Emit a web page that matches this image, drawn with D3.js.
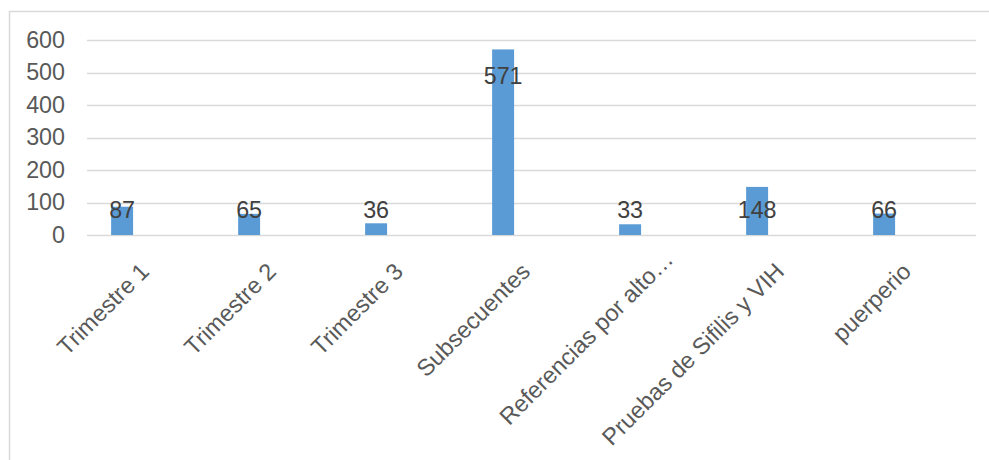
<!DOCTYPE html>
<html>
<head>
<meta charset="utf-8">
<script src="https://cdn.jsdelivr.net/npm/d3@7"></script>
<style>
  html, body { margin: 0; padding: 0; background: #ffffff; }
  svg { display: block; }
  text { font-family: "Liberation Sans", Arial, sans-serif; }
</style>
</head>
<body>
<svg id="chart" width="989" height="460"></svg>
<script>
const categories = ["Trimestre 1", "Trimestre 2", "Trimestre 3", "Subsecuentes", "Referencias por alto\u2026", "Pruebas de Sifilis y VIH", "puerperio"];
const values = [87, 65, 36, 571, 33, 148, 66];
const yTicks = [0, 100, 200, 300, 400, 500, 600];

const svg = d3.select("#chart");

// outer chart border
svg.append("rect")
  .attr("x", 9.5).attr("y", 11.5)
  .attr("width", 990).attr("height", 460)
  .attr("fill", "#ffffff")
  .attr("stroke", "#d9d9d9").attr("stroke-width", 1.5);

const x = d3.scaleBand().domain(categories).range([87, 976]).padding(0);
const y = d3.scaleLinear().domain([0, 600]).range([235, 40]);

// gridlines
svg.append("g").selectAll("line").data(yTicks).join("line")
  .attr("x1", 87).attr("x2", 976)
  .attr("y1", d => Math.round(y(d)) + 0.5).attr("y2", d => Math.round(y(d)) + 0.5)
  .attr("stroke", "#d9d9d9").attr("stroke-width", 1.3);

// y axis tick labels
const yAxis = d3.axisLeft(y).tickValues(yTicks).tickSize(0).tickPadding(0);
const gy = svg.append("g").attr("transform", "translate(65,0)").call(yAxis);
gy.select(".domain").remove();
gy.selectAll("text")
  .attr("fill", "#595959")
  .style("font-size", "23.3px")
  .style("font-family", "'Liberation Sans', Arial, sans-serif");

// bars
const bw = x.bandwidth();
const barW = bw * 0.173;
const barOff = bw * 0.19;
svg.append("g").selectAll("rect").data(values).join("rect")
  .attr("x", (d, i) => x(categories[i]) + barOff)
  .attr("width", barW)
  .attr("y", d => y(d))
  .attr("height", d => y(0) - y(d))
  .attr("fill", "#5b9bd5");

// data labels
svg.append("g").selectAll("text").data(values).join("text")
  .attr("x", (d, i) => x(categories[i]) + barOff + barW / 2)
  .attr("y", d => d > 300 ? y(d - 80) : y(76))
  .attr("dy", "0.35em")
  .attr("text-anchor", "middle")
  .attr("fill", "#404040")
  .style("font-size", "23.3px")
  .text(d => d);

// x axis category labels (rotated)
const xAxis = d3.axisBottom(x).tickSize(0).tickPadding(0);
const gx = svg.append("g").attr("transform", "translate(0,235)").call(xAxis);
gx.select(".domain").remove();
gx.selectAll("text")
  .attr("fill", "#595959")
  .style("font-size", "23.5px")
  .style("font-family", "'Liberation Sans', Arial, sans-serif")
  .attr("text-anchor", "end")
  .attr("dy", "0")
  .attr("y", 0)
  .attr("transform", d => /\u2026$/.test(d)
    ? "translate(16,26) rotate(-45)"
    : "translate(0,38) rotate(-45)");
</script>
</body>
</html>
